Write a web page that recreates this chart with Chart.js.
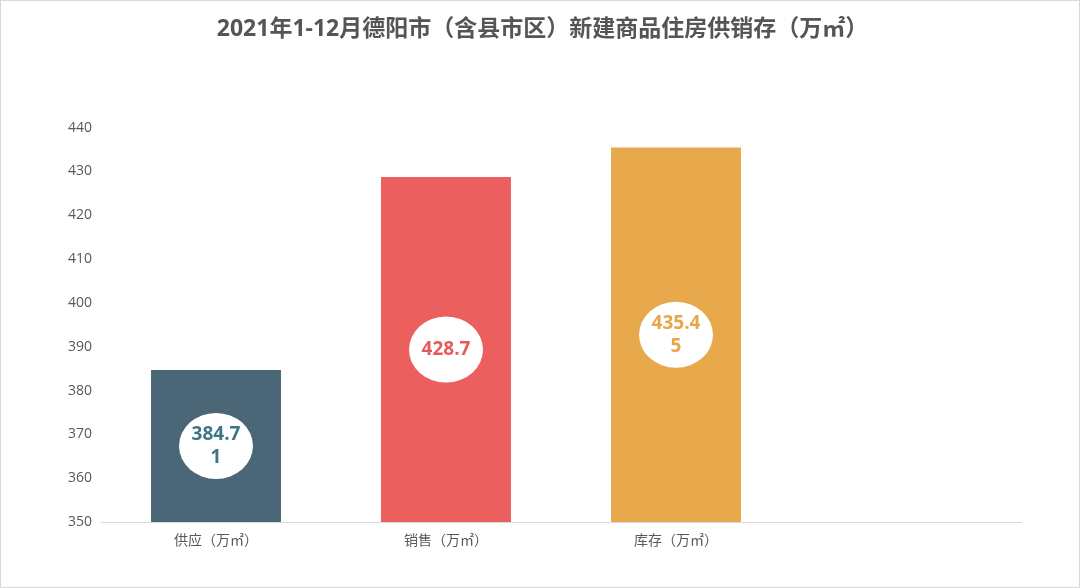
<!DOCTYPE html>
<html>
<head>
<meta charset="utf-8">
<script src="https://cdn.jsdelivr.net/npm/chart.js@4/dist/chart.umd.min.js"></script>
<style>
html,body{margin:0;padding:0;background:#fff;}
#wrap{width:1080px;height:588px;position:relative;}
canvas{display:block;}
</style>
</head>
<body>
<div id="wrap"><canvas id="c" width="1080" height="588"></canvas></div>
<script>
const titleText = '2021年1-12月德阳市（含县市区）新建商品住房供销存（万㎡）';
const categories = ['供应（万㎡）', '销售（万㎡）', '库存（万㎡）', ''];
const values = [384.71, 428.7, 435.45, null];
const barColors = ['#4a6677', '#eb5f5f', '#e8a84c', '#cccccc'];
const labelColors = ['#3e7587', '#e85a5a', '#e8a54a', '#999999'];
const yTicks = { min: 350, max: 440, step: 10 };

const FONT = '"Open Sans","Noto Sans CJK SC","Noto Sans",sans-serif';

const labelPlugin = {
  id: 'bubbleLabels',
  afterDraw(chart) {
    const ctx = chart.ctx;
    const xs = chart.scales.x, ys = chart.scales.y;
    const basePx = ys.getPixelForValue(yTicks.min);
    values.forEach((v, i) => {
      if (v === null || v === undefined) return;
      const cx = xs.getPixelForValue(i);
      const cy = (ys.getPixelForValue(v) + basePx) / 2;
      ctx.save();
      ctx.beginPath();
      ctx.ellipse(cx, cy, 37, 33, 0, 0, Math.PI * 2);
      ctx.fillStyle = '#ffffff';
      ctx.fill();
      const s = String(v);
      const lines = [];
      for (let k = 0; k < s.length; k += 5) lines.push(s.slice(k, k + 5));
      ctx.font = 'bold 19px ' + FONT;
      ctx.fillStyle = labelColors[i];
      ctx.textAlign = 'center';
      ctx.textBaseline = 'middle';
      const lh = 23;
      const start = cy - (lines.length - 1) * lh / 2;
      lines.forEach((ln, j) => ctx.fillText(ln, cx, start + j * lh));
      ctx.restore();
    });
    ctx.save();
    ctx.strokeStyle = '#d9d9d9';
    ctx.lineWidth = 1;
    ctx.strokeRect(0.5, 0.5, 1079, 587);
    ctx.restore();
  }
};

new Chart(document.getElementById('c'), {
  type: 'bar',
  data: {
    labels: categories,
    datasets: [{
      data: values,
      backgroundColor: barColors,
      barPercentage: 1,
      categoryPercentage: 0.565,
      borderWidth: 0
    }]
  },
  options: {
    responsive: false,
    animation: false,
    devicePixelRatio: 1,
    layout: { padding: { left: 64, right: 59, top: 0, bottom: 26 } },
    plugins: {
      legend: { display: false },
      tooltip: { enabled: false },
      title: {
        display: true,
        text: titleText,
        color: '#555555',
        font: { family: FONT, size: 23, weight: 'bold', lineHeight: 1.2 },
        padding: { top: 16, bottom: 84 }
      }
    },
    scales: {
      x: {
        grid: { display: false, drawTicks: false },
        border: { display: true, color: '#d9d9d9', width: 1 },
        ticks: { color: '#595959', font: { family: FONT, size: 14 }, padding: 11, maxRotation: 0 },
        afterFit(s) { s.height = 40; }
      },
      y: {
        min: yTicks.min,
        max: yTicks.max,
        grid: { display: false, drawTicks: false },
        border: { display: false },
        ticks: { stepSize: yTicks.step, color: '#595959', font: { family: FONT, size: 14 }, padding: 9 },
        afterFit(s) { s.width = 37; }
      }
    }
  },
  plugins: [labelPlugin]
});
</script>
</body>
</html>
